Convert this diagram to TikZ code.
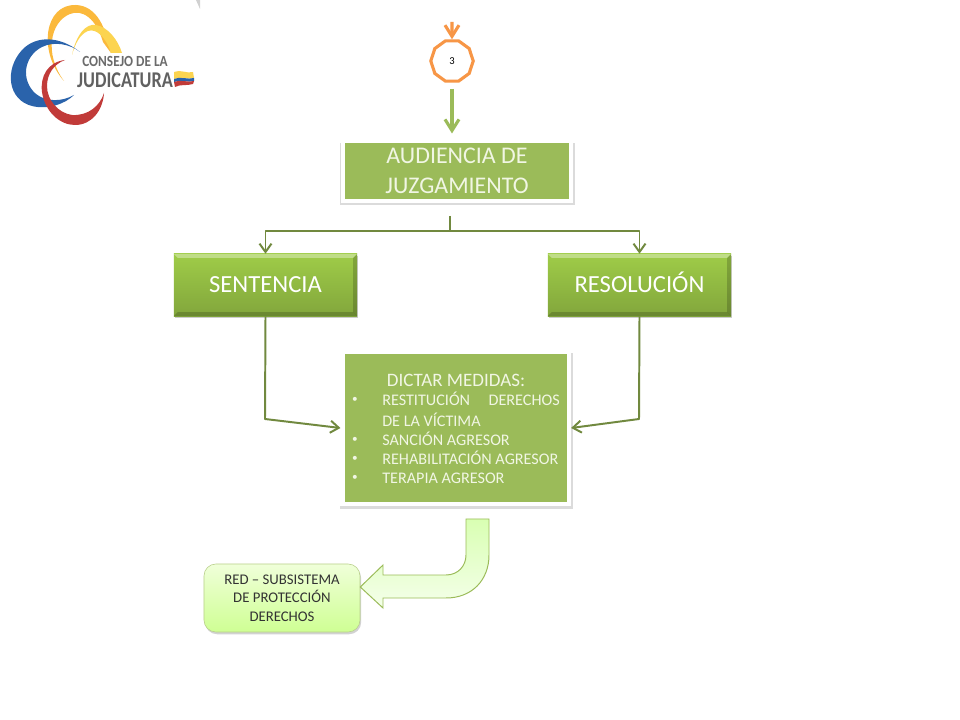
\documentclass[tikz,border=0pt]{standalone}
\usepackage{fontspec}
\usepackage{graphicx}
\setmainfont{Carlito}
\usetikzlibrary{arrows.meta,positioning,calc,shadows,shapes.geometric}
\definecolor{leaf}{HTML}{9BBB59}
\definecolor{leaftop}{HTML}{9FCC48}
\definecolor{leafbot}{HTML}{82A63C}
\definecolor{wire}{HTML}{71893F}
\definecolor{tang}{HTML}{F79646}
\definecolor{paletxt}{HTML}{F1F6E4}
\definecolor{logogold}{HTML}{FBB93C}
\definecolor{logosun}{HTML}{FCD450}
\definecolor{logoblue}{HTML}{2A63AB}
\definecolor{logored}{HTML}{C13B39}

\begin{document}
\begin{tikzpicture}[x=0.025cm,y=-0.025cm,
framebox/.style={draw=white,line width=3pt,fill=leaf,align=center,inner sep=0pt,drop shadow={opacity=0.28,shadow scale=1.03,shadow xshift=0.4pt,shadow yshift=-2pt}},
bevelbox/.style={top color=leaftop,bottom color=leafbot,align=center,text=white,font=\fontsize{17.5}{20}\selectfont,text height=11pt,text depth=0pt,minimum width=4.575cm,minimum height=1.55cm,inner sep=0pt,drop shadow={opacity=0.4,shadow xshift=0.8pt,shadow yshift=-1.6pt},path picture={\fill[white,opacity=0.35] (path picture bounding box.north west) -- (path picture bounding box.north east) -- ++(-0.1cm,-0.1cm) -- ++(-4.375cm,0) -- cycle;\fill[black,opacity=0.18] (path picture bounding box.south east) -- (path picture bounding box.north east) -- ++(-0.1cm,-0.1cm) -- ++(0,-1.35cm) -- cycle;\fill[black,opacity=0.18] (path picture bounding box.south east) -- (path picture bounding box.south west) -- ++(0.1cm,0.1cm) -- ++(4.375cm,0) -- cycle;}},
item/.style={anchor=base west,text=paletxt,inner sep=0pt,font=\fontsize{11.5}{13}\selectfont},
dot/.style={anchor=center,text=paletxt,inner sep=0pt,font=\fontsize{8}{10}\selectfont},
wirearr/.style={draw=wire,line width=1.4pt,line join=round,-{Straight Barb[length=2.1mm,width=3mm,line width=1.4pt]}},
fatarr/.style={line width=2.2pt,-{Straight Barb[length=2.8mm,width=3.5mm,line width=2.2pt]}}]
\useasboundingbox (0,0) rectangle (960,720);
% logo
\fill[white] (0,0) rectangle (960,720);
\fill[black!18] (196,0) -- (200,0) -- (200,9) -- cycle;
\fill[logogold] (64,81) .. controls (38,52) and (44,4) .. (76,5) .. controls (97,6) and (106,28) .. (111,53) -- (103,42) .. controls (96,18) and (82,9) .. (70,14) .. controls (50,22) and (44,54) .. (64,81) -- cycle;
\fill[logosun] (72,55) .. controls (76,35) and (86,23) .. (96,25) .. controls (108,27) and (118,40) .. (122,53) -- (111,53) .. controls (106,37) and (96,28) .. (88,31) .. controls (80,34) and (75,44) .. (72,55) -- cycle;
\fill[logoblue] (80,52) .. controls (60,36) and (36,35) .. (22,50) .. controls (4,70) and (8,100) .. (32,106) .. controls (48,110) and (65,104) .. (74,95) .. controls (62,102) and (46,102) .. (36,94) .. controls (20,80) and (24,56) .. (42,47) .. controls (54,41) and (70,44) .. (80,52) -- cycle;
\fill[logored] (65,60) .. controls (48,62) and (40,76) .. (42,92) .. controls (45,112) and (60,125) .. (75,125) .. controls (92,125) and (103,110) .. (104,93) .. controls (100,106) and (88,116) .. (72,115) .. controls (58,113) and (47,100) .. (47,86) .. controls (47,74) and (54,64) .. (65,60) -- cycle;
\node[text=black!58,inner sep=0pt,font=\fontsize{11}{12}\selectfont\bfseries] (logoa) at (125,61) {\scalebox{0.86}[1]{CONSEJO DE LA}};
\node[text=black!62,inner sep=0pt,font=\fontsize{16}{17}\selectfont\bfseries] (logob) at (125,80) {\scalebox{0.81}[1]{JUDICATURA}};
\fill[logosun] (174,72) .. controls (180,69) and (187,74) .. (193,72) -- (194,78) .. controls (188,80) and (180,76) .. (174,79) -- cycle;
\fill[logoblue] (174,79) .. controls (180,76) and (188,80) .. (194,78) -- (194,81) .. controls (188,83) and (180,79) .. (174,82) -- cycle;
\fill[logored] (174,82) .. controls (180,79) and (188,83) .. (194,81) -- (193,84) .. controls (187,86) and (180,84) .. (175,87) -- cycle;
% flow
\coordinate (top) at (452,22);
\node[regular polygon,regular polygon sides=10,draw=tang,line width=2.2pt,fill=white,minimum size=1.06cm,inner sep=0pt,font=\fontsize{7.5}{8}\selectfont] (conn) at (452,61) {3};
\draw[fatarr,tang] (top) -- (conn);
\node[framebox,minimum width=5.7cm,minimum height=1.51cm,text=paletxt,font=\fontsize{17}{21}\selectfont] (aud) at (457,171) {AUDIENCIA DE\\JUZGAMIENTO};
\draw[fatarr,leaf,shorten <=2pt,shorten >=0.13cm] (conn.south |- 0,86) -- (aud.north -| conn.south);
\coordinate (tap) at (450,216);\coordinate (fork) at (450,231);
\node[bevelbox] (sent) at (265.5,285) {SENTENCIA};
\node[bevelbox] (res) at (639.5,285) {RESOLUCIÓN};
\draw[draw=wire,line width=1.4pt] (tap) -- (fork);
\draw[wirearr] (fork) -| (sent.north);
\draw[wirearr] (fork) -| (res.north);
\node[framebox,minimum width=5.66cm,minimum height=3.78cm] (med) at (455.8,428) {};
\coordinate (inl) at (265,419);\coordinate (inr) at (639,419);
\draw[wirearr] (sent.south) -- (inl) -- (med.west);
\draw[wirearr] (res.south) -- (inr) -- (med.east);
\node[text=paletxt,inner sep=0pt,font=\fontsize{13.5}{15}\selectfont] (medt) at (456,380) {DICTAR MEDIDAS:};
\node[dot] (b1) at (355,400) {•};\node[item] (i1) at (382,406) {RESTITUCIÓN};\node[item,anchor=base east] (i1b) at (560,406) {DERECHOS};
\node[item] (i1c) at (382,427) {DE LA VÍCTIMA};
\node[dot] (b2) at (355,440) {•};\node[item] (i2) at (382,446) {SANCIÓN AGRESOR};
\node[dot] (b3) at (355,459) {•};\node[item] (i3) at (382,465) {REHABILITACIÓN AGRESOR};
\node[dot] (b4) at (355,478) {•};\node[item] (i4) at (382,484) {TERAPIA AGRESOR};
\node[draw=leaf!70,top color=green!40!yellow!15!white,bottom color=green!45!yellow!42!white,rounded corners=8.5pt,minimum width=3.9cm,minimum height=1.7cm,align=center,inner sep=0pt,text=black!80,font=\fontsize{10.5}{13.2}\selectfont,drop shadow={opacity=0.35,shadow xshift=0.8pt,shadow yshift=-1.6pt}] (red) at (282,598) {RED – SUBSISTEMA\\DE PROTECCIÓN\\DERECHOS};
\draw[draw=leaf,line width=0.7pt,top color=green!50!yellow!30!white,bottom color=green!50!yellow!8!white] (466,519) -- (489,519) -- (489,555) .. controls (489,580) and (472,598) .. (446,598) -- (383,598) -- (383,608) -- (red.east |- 0,587) -- (383,565) -- (383,575) -- (446,575) .. controls (458,575) and (466,566) .. (466,555) -- cycle;
\end{tikzpicture}
\end{document}
